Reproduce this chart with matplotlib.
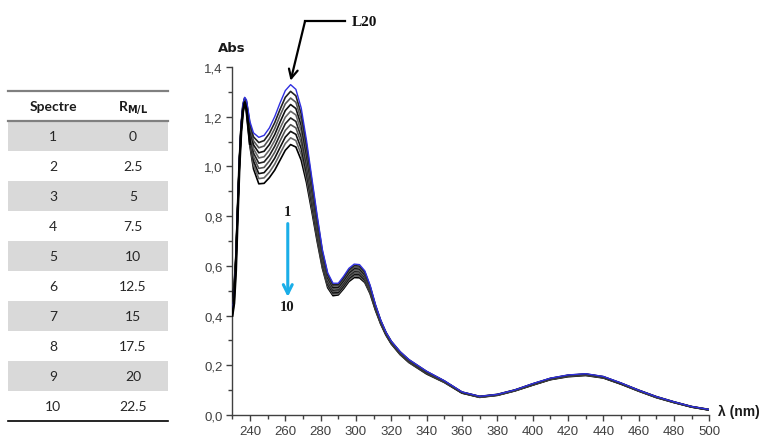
import matplotlib
matplotlib.use('Agg')
import matplotlib.pyplot as plt
from matplotlib.patches import Rectangle
from matplotlib.lines import Line2D
from matplotlib.ticker import MultipleLocator, FuncFormatter

# wavelengths (nm)
wl = [230, 231, 232, 233, 234, 235, 236, 237, 238, 240, 242, 245, 248, 251, 254, 257, 260,
      263, 266, 269, 272, 275, 278, 281, 284, 287, 290, 293, 296, 299, 302, 305, 308, 311,
      314, 317, 320, 325, 330, 340, 350, 360, 370, 380, 390, 400, 410, 420, 430, 440, 450,
      460, 470, 480, 490, 500]

# absorbance of spectra 1..10
s1 = [0.42, 0.47, 0.60, 0.82, 1.02, 1.17, 1.25, 1.278, 1.268, 1.180, 1.135, 1.117, 1.125, 1.155, 1.200, 1.255, 1.305,
      1.329, 1.310, 1.235, 1.105, 0.955, 0.805, 0.665, 0.572, 0.530, 0.530, 0.558, 0.590, 0.607, 0.605, 0.580, 0.522, 0.445,
      0.382, 0.333, 0.297, 0.255, 0.223, 0.176, 0.138, 0.093, 0.075, 0.083, 0.101, 0.126, 0.148, 0.161, 0.166, 0.155, 0.129,
      0.100, 0.074, 0.053, 0.034, 0.022]
s2 = [0.45, 0.50, 0.62, 0.82, 1.02, 1.17, 1.25, 1.276, 1.263, 1.169, 1.119, 1.096, 1.104, 1.133, 1.176, 1.229, 1.278,
      1.302, 1.284, 1.212, 1.086, 0.940, 0.793, 0.657, 0.565, 0.524, 0.525, 0.552, 0.584, 0.601, 0.599, 0.575, 0.518, 0.442,
      0.380, 0.332, 0.296, 0.254, 0.222, 0.175, 0.137, 0.092, 0.075, 0.083, 0.101, 0.125, 0.147, 0.160, 0.165, 0.154, 0.128,
      0.100, 0.074, 0.053, 0.034, 0.022]
s3 = [0.41, 0.46, 0.59, 0.81, 1.01, 1.16, 1.24, 1.273, 1.258, 1.158, 1.103, 1.075, 1.082, 1.111, 1.152, 1.204, 1.252,
      1.275, 1.258, 1.188, 1.067, 0.925, 0.782, 0.648, 0.559, 0.519, 0.520, 0.547, 0.578, 0.595, 0.593, 0.570, 0.514, 0.440,
      0.378, 0.330, 0.295, 0.252, 0.220, 0.174, 0.136, 0.092, 0.074, 0.082, 0.100, 0.125, 0.147, 0.159, 0.164, 0.154, 0.128,
      0.099, 0.073, 0.052, 0.034, 0.022]
s4 = [0.47, 0.51, 0.63, 0.83, 1.02, 1.16, 1.24, 1.271, 1.254, 1.147, 1.087, 1.055, 1.061, 1.088, 1.128, 1.178, 1.225,
      1.249, 1.233, 1.165, 1.048, 0.910, 0.770, 0.640, 0.552, 0.513, 0.514, 0.541, 0.572, 0.589, 0.587, 0.564, 0.511, 0.437,
      0.377, 0.329, 0.293, 0.251, 0.219, 0.172, 0.136, 0.091, 0.074, 0.082, 0.100, 0.124, 0.146, 0.159, 0.164, 0.153, 0.127,
      0.099, 0.073, 0.052, 0.033, 0.021]
s5 = [0.43, 0.48, 0.60, 0.81, 1.01, 1.16, 1.24, 1.268, 1.249, 1.136, 1.071, 1.034, 1.039, 1.066, 1.104, 1.153, 1.198,
      1.222, 1.207, 1.142, 1.029, 0.895, 0.758, 0.632, 0.545, 0.508, 0.509, 0.536, 0.566, 0.583, 0.581, 0.559, 0.507, 0.435,
      0.375, 0.328, 0.292, 0.250, 0.218, 0.171, 0.135, 0.091, 0.073, 0.081, 0.099, 0.123, 0.145, 0.158, 0.163, 0.152, 0.127,
      0.098, 0.072, 0.052, 0.033, 0.021]
s6 = [0.49, 0.52, 0.64, 0.83, 1.02, 1.15, 1.23, 1.266, 1.244, 1.124, 1.054, 1.013, 1.018, 1.044, 1.081, 1.127, 1.172,
      1.195, 1.181, 1.118, 1.011, 0.880, 0.747, 0.623, 0.539, 0.502, 0.504, 0.530, 0.561, 0.577, 0.576, 0.554, 0.503, 0.432,
      0.373, 0.326, 0.291, 0.248, 0.216, 0.170, 0.134, 0.090, 0.073, 0.081, 0.099, 0.123, 0.145, 0.157, 0.162, 0.152, 0.126,
      0.098, 0.072, 0.051, 0.033, 0.021]
s7 = [0.44, 0.49, 0.61, 0.82, 1.01, 1.15, 1.23, 1.263, 1.239, 1.113, 1.038, 0.992, 0.996, 1.022, 1.057, 1.102, 1.145,
      1.168, 1.155, 1.095, 0.992, 0.865, 0.735, 0.615, 0.532, 0.497, 0.499, 0.525, 0.555, 0.571, 0.570, 0.549, 0.499, 0.430,
      0.371, 0.325, 0.290, 0.247, 0.215, 0.169, 0.133, 0.090, 0.073, 0.081, 0.099, 0.122, 0.144, 0.157, 0.162, 0.151, 0.126,
      0.098, 0.072, 0.051, 0.033, 0.021]
s8 = [0.46, 0.50, 0.62, 0.82, 1.01, 1.15, 1.23, 1.261, 1.235, 1.102, 1.022, 0.971, 0.975, 1.000, 1.033, 1.076, 1.118,
      1.141, 1.129, 1.072, 0.973, 0.850, 0.723, 0.607, 0.525, 0.491, 0.493, 0.519, 0.549, 0.565, 0.564, 0.543, 0.496, 0.427,
      0.370, 0.324, 0.288, 0.246, 0.214, 0.167, 0.133, 0.089, 0.072, 0.080, 0.098, 0.121, 0.143, 0.156, 0.161, 0.150, 0.125,
      0.097, 0.071, 0.051, 0.032, 0.020]
s9 = [0.40, 0.45, 0.58, 0.80, 1.00, 1.14, 1.22, 1.258, 1.230, 1.091, 1.006, 0.951, 0.954, 0.977, 1.009, 1.051, 1.092,
      1.115, 1.104, 1.048, 0.954, 0.835, 0.712, 0.598, 0.519, 0.486, 0.488, 0.514, 0.543, 0.559, 0.558, 0.538, 0.492, 0.425,
      0.368, 0.322, 0.287, 0.244, 0.212, 0.166, 0.132, 0.089, 0.072, 0.080, 0.098, 0.121, 0.143, 0.155, 0.160, 0.150, 0.125,
      0.097, 0.071, 0.050, 0.032, 0.020]
s10 = [0.43, 0.48, 0.60, 0.81, 1.00, 1.14, 1.22, 1.255, 1.225, 1.080, 0.990, 0.930, 0.932, 0.955, 0.985, 1.025, 1.065,
       1.088, 1.078, 1.025, 0.935, 0.820, 0.700, 0.590, 0.512, 0.480, 0.483, 0.508, 0.537, 0.553, 0.552, 0.533, 0.488, 0.422,
       0.366, 0.321, 0.286, 0.243, 0.211, 0.165, 0.131, 0.088, 0.071, 0.079, 0.097, 0.120, 0.142, 0.154, 0.159, 0.149, 0.124,
       0.096, 0.070, 0.050, 0.032, 0.020]
spectra = [s1, s2, s3, s4, s5, s6, s7, s8, s9, s10]

# table contents
spectre_no = ['1', '2', '3', '4', '5', '6', '7', '8', '9', '10']
ratio_ml = ['0', '2.5', '5', '7.5', '10', '12.5', '15', '17.5', '20', '22.5']

W, H = 766, 439
fig = plt.figure(figsize=(W / 100, H / 100), dpi=100)

def fx(px):
    return px / W

def fy(py):
    return 1 - py / H

# ---- spectra plot
ax = fig.add_axes([fx(232.3), fy(416), fx(709.3) - fx(232.3), fy(68) - fy(416)])
line_cols = ['#3030e0', '#222222', '#555555', '#111111', '#666666',
             '#222222', '#555555', '#111111', '#666666', '#000000']
for i in range(9, -1, -1):
    ax.plot(wl, spectra[i], color=line_cols[i], lw=1.2 if i else 1.0, zorder=3 + (10 - i))
# thicker black on the rising edge
ax.plot(wl[:10], s9[:10], color='black', lw=1.8, zorder=20)

ax.set_xlim(230, 500)
ax.set_ylim(0, 1.4)
for sp in ['top', 'right']:
    ax.spines[sp].set_visible(False)
for sp in ['left', 'bottom']:
    ax.spines[sp].set_color('#404040')
    ax.spines[sp].set_linewidth(1.0)
ax.xaxis.set_major_locator(MultipleLocator(20))
ax.xaxis.set_minor_locator(MultipleLocator(10))
ax.yaxis.set_major_locator(MultipleLocator(0.2))
ax.yaxis.set_minor_locator(MultipleLocator(0.1))
ax.xaxis.set_major_formatter(FuncFormatter(lambda v, p: '' if v < 235 else '%d' % v))
ax.yaxis.set_major_formatter(FuncFormatter(lambda v, p: ('%.1f' % v).replace('.', ',')))
ax.tick_params(which='major', length=4, width=1, color='#404040', labelsize=9.5,
               labelcolor='#404040', pad=3)
ax.tick_params(which='minor', length=3, width=1, color='#404040')
for lab in ax.get_xticklabels() + ax.get_yticklabels():
    lab.set_fontfamily('Liberation Sans')

fig.text(fx(232), fy(49), 'Abs', fontsize=9.5, fontweight='bold', ha='center', va='center',
         color='#1a1a1a', family='DejaVu Sans')
fig.text(fx(718), fy(412), 'λ (nm)', fontsize=10, fontweight='bold', ha='left', va='center',
         color='#1a1a1a', family='Liberation Sans')

# L20 pointer
fig.add_artist(Line2D([fx(345), fx(305)], [fy(22), fy(22)], color='black', lw=1.6))
ax.annotate('', xy=(263, 1.345), xytext=(271.1, 1.582), annotation_clip=False,
            arrowprops=dict(arrowstyle='->', color='black', lw=1.6, mutation_scale=16,
                            shrinkA=0, shrinkB=0))
fig.text(fx(352), fy(22), 'L20', fontsize=11, fontweight='bold', ha='left', va='center',
         family='Liberation Serif', color='#111111')

# 1 -> 10 arrow
ax.text(261, 0.82, '1', fontsize=10.5, fontweight='bold', ha='center', va='center',
        family='Liberation Serif', color='#1a1a1a')
ax.annotate('', xy=(261.4, 0.475), xytext=(261.4, 0.77),
            arrowprops=dict(arrowstyle='->', color='#1aaee8', lw=2.2, mutation_scale=16,
                            shrinkA=0, shrinkB=0))
ax.text(261, 0.438, '10', fontsize=10.5, fontweight='bold', ha='center', va='center',
        family='Liberation Serif', color='#1a1a1a')

# ---- table on the left
tx0, tx1 = 8, 168
row_top, row_h = 122, 30
for k in range(10):
    y0 = row_top + k * row_h
    if k % 2 == 0:
        fig.add_artist(Rectangle((fx(tx0), fy(y0 + row_h)), fx(tx1) - fx(tx0), fy(y0) - fy(y0 + row_h),
                                 facecolor='#d9d9d9', edgecolor='none', transform=fig.transFigure))
    yc = y0 + row_h / 2
    fig.text(fx(53), fy(yc), spectre_no[k], fontsize=10, ha='center', va='center',
             color='#262626', family='Lato')
    fig.text(fx(133), fy(yc), ratio_ml[k], fontsize=10, ha='center', va='center',
             color='#262626', family='Lato')

fig.add_artist(Line2D([fx(tx0), fx(tx1)], [fy(92), fy(92)], color='#808080', lw=1.6))
fig.add_artist(Line2D([fx(tx0), fx(tx1)], [fy(122), fy(122)], color='#808080', lw=1.6))
fig.add_artist(Line2D([fx(tx0), fx(tx1)], [fy(422), fy(422)], color='black', lw=1.2))
fig.text(fx(53), fy(107), 'Spectre', fontsize=10, fontweight='bold', ha='center', va='center',
         color='#1a1a1a', family='Lato')
fig.text(fx(133), fy(107), r'R$_{\mathbf{M/L}}$', fontsize=10, fontweight='bold', ha='center',
         va='center', color='#1a1a1a', family='Lato')

fig.savefig('out.png', dpi=100)
